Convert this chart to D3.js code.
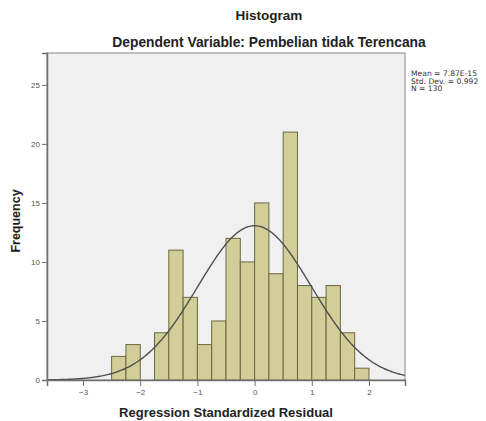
<!DOCTYPE html>
<html>
<head>
<meta charset="utf-8">
<script src="https://cdn.jsdelivr.net/npm/d3@7"></script>
<style>
  body { margin: 0; background: #fff; }
  text { font-family: "Liberation Sans", Arial, sans-serif; }
</style>
</head>
<body>
<div class="chart"></div>
<script>
// Bin start values (width 0.25) and counts
const binStarts = [-2.5, -2.25, -2.0, -1.75, -1.5, -1.25, -1.0, -0.75, -0.5, -0.25,
  0, 0.25, 0.5, 0.75, 1.0, 1.25, 1.5, 1.75];
const counts = [2, 3, 0, 4, 11, 7, 3, 5, 12, 10, 15, 9, 21, 8, 7, 8, 4, 1];
const binWidth = 0.25;
const xTicks = [-3, -2, -1, 0, 1, 2];
const yTicks = [0, 5, 10, 15, 20, 25];
const stats = ['Mean = 7.87E-15', 'Std. Dev. = 0.992', 'N = 130'];
const mean = 0;
const sd = 0.992;
const n = 130;

const svgWidth = 486;
const svgHeight = 421;

// plot frame
const margin = { top: 53, right: 81, bottom: 41, left: 47 };
const width = svgWidth - margin.left - margin.right;
const height = svgHeight - margin.top - margin.bottom;

const svg = d3
  .select('.chart')
  .append('svg')
  .attr('width', svgWidth)
  .attr('height', svgHeight);

const chartGroup = svg
  .append('g')
  .attr('transform', `translate(${margin.left}, ${margin.top})`);

const xScale = d3.scaleLinear().domain([-3.63, 2.63]).range([0, width]);
const yScale = d3.scaleLinear().domain([0, 27.7]).range([height, 0]);

// background
chartGroup
  .append('rect')
  .attr('width', width)
  .attr('height', height)
  .attr('fill', '#f0f0f0')
  .attr('stroke', '#9a9a9a')
  .attr('stroke-width', 1.2);

// bars
chartGroup
  .selectAll('.bar')
  .data(binStarts)
  .enter()
  .filter((d, i) => counts[i] > 0)
  .append('rect')
  .classed('bar', true)
  .attr('x', (d) => xScale(d))
  .attr('y', (d) => yScale(counts[binStarts.indexOf(d)]))
  .attr('width', (d) => xScale(d + binWidth) - xScale(d))
  .attr('height', (d) => height - yScale(counts[binStarts.indexOf(d)]))
  .attr('fill', '#d3cd99')
  .attr('stroke', '#6a6840')
  .attr('stroke-width', 1);

// normal curve
const curveX = d3.range(-3.63, 2.631, 0.02);
const normal = (x) =>
  ((n * binWidth) / (sd * Math.sqrt(2 * Math.PI))) *
  Math.exp(-((x - mean) ** 2) / (2 * sd * sd));

chartGroup
  .append('path')
  .datum(curveX)
  .attr('fill', 'none')
  .attr('stroke', '#505050')
  .attr('stroke-width', 1.4)
  .attr('d', d3.line().x((d) => xScale(d)).y((d) => yScale(normal(d))));

// axes
const xAxis = chartGroup
  .append('g')
  .attr('transform', `translate(0, ${height})`)
  .call(
    d3.axisBottom(xScale).tickValues(xTicks).tickFormat(d3.format('d'))
      .tickSize(6).tickPadding(3)
  );

const yAxis = chartGroup
  .append('g')
  .call(d3.axisLeft(yScale).tickValues(yTicks).tickSize(5).tickPadding(2));

[xAxis, yAxis].forEach((ax) => {
  ax.select('.domain').attr('stroke', '#707070').attr('stroke-width', 1.5);
  ax.selectAll('.tick line').attr('stroke', '#707070');
  ax.selectAll('.tick text')
    .attr('fill', '#555')
    .style('font-size', '8px')
    .style('font-family', '"Liberation Sans", Arial, sans-serif');
});

// titles
svg
  .append('text')
  .attr('x', 269)
  .attr('y', 20)
  .attr('text-anchor', 'middle')
  .style('font-size', '13.5px')
  .style('font-weight', 'bold')
  .attr('fill', '#222')
  .text('Histogram');

svg
  .append('text')
  .attr('x', 269)
  .attr('y', 47)
  .attr('text-anchor', 'middle')
  .style('font-size', '13.8px')
  .style('font-weight', 'bold')
  .attr('fill', '#222')
  .text('Dependent Variable: Pembelian tidak Terencana');

// axis labels
svg
  .append('text')
  .attr('x', margin.left + width / 2)
  .attr('y', 417)
  .attr('text-anchor', 'middle')
  .style('font-size', '13px')
  .style('font-weight', 'bold')
  .attr('fill', '#222')
  .text('Regression Standardized Residual');

svg
  .append('text')
  .attr('transform', `translate(20, 221) rotate(-90)`)
  .attr('text-anchor', 'middle')
  .style('font-size', '12.5px')
  .style('font-weight', 'bold')
  .attr('fill', '#222')
  .text('Frequency');

// stats box
svg
  .selectAll('.stat')
  .data(stats)
  .enter()
  .append('text')
  .classed('stat', true)
  .attr('x', 411)
  .attr('y', (d, i) => 76 + i * 7.5)
  .style('font-size', '7.6px')
  .style('font-family', '"DejaVu Sans", sans-serif')
  .attr('fill', '#333')
  .text((d) => d);
</script>
</body>
</html>
